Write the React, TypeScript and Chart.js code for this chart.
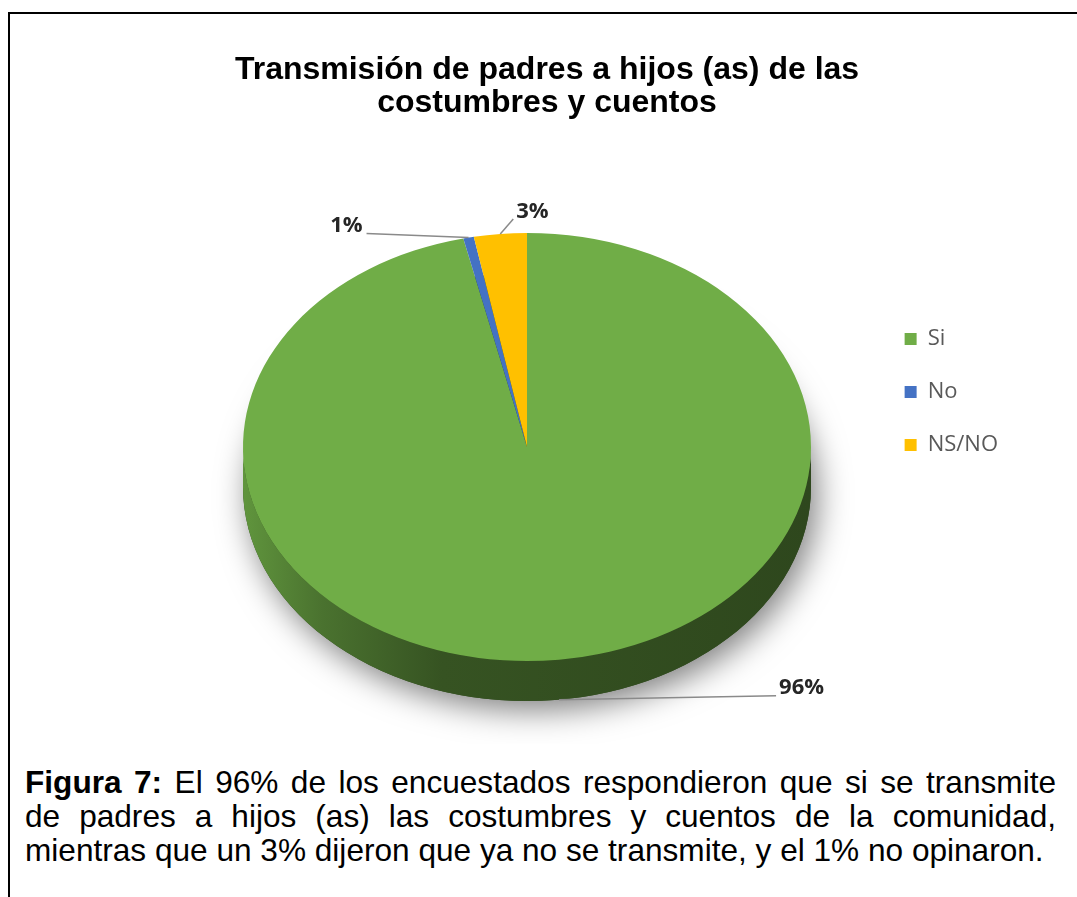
import React, { useEffect, useRef } from 'react';
import { Chart, registerables } from 'chart.js';

Chart.register(...registerables);

// ---- data ----
const titleLines = ['Transmisión de padres a hijos (as) de las', 'costumbres y cuentos'];
const categories = ['Si', 'No', 'NS/NO'];
const values = [96.4, 0.6, 3.0];
const sliceColors = ['#70AD47', '#4472C4', '#FFC000'];

const captionLabel = 'Figura 7:';
const captionLine1 = ' El 96% de los encuestados respondieron que si se transmite';
const captionLine2 = 'de padres a hijos (as) las costumbres y cuentos de la comunidad,';
const captionLine3 = 'mientras que un 3% dijeron que ya no se transmite, y el 1% no opinaron.';

// ---- geometry / styling (canvas px) ----
const PIE = { cx: 517, cy: 433, r: 284, ry: 214, depth: 40 };
const leaders = [
  { dx: 217, dy: -4, side: 'right' },
  { dx: -102, dy: -4, side: 'left' },
  { dx: 13, dy: -15, side: 'right' },
];

function shade(hex: string, f: number) {
  const n = parseInt(hex.slice(1), 16);
  const r = Math.round(((n >> 16) & 255) * f);
  const g = Math.round(((n >> 8) & 255) * f);
  const b = Math.round((n & 255) * f);
  return `rgb(${r},${g},${b})`;
}

const pie3d = {
  id: 'pie3d',
  beforeDatasetsDraw(chart: any) {
    const arcs = chart.getDatasetMeta(0).data as any[];
    if (!arcs.length) return;
    const ctx = chart.ctx as CanvasRenderingContext2D;
    const { cx, cy, ry, depth } = PIE;
    const r = arcs[0].outerRadius;
    // drop shadow under the pie body
    ctx.save();
    ctx.shadowColor = 'rgba(0,0,0,0.5)';
    ctx.shadowBlur = 32;
    ctx.shadowOffsetX = 6;
    ctx.shadowOffsetY = 9;
    ctx.fillStyle = '#30491f';
    ctx.beginPath();
    ctx.ellipse(cx, cy + depth, r, ry, 0, 0, Math.PI * 2);
    ctx.fill();
    ctx.restore();
    // side walls (front half only)
    arcs.forEach((arc: any) => {
      const s = Math.max(arc.startAngle, 0);
      const e = Math.min(arc.endAngle, Math.PI);
      if (e <= s) return;
      const base = arc.options.backgroundColor as string;
      const g = ctx.createLinearGradient(cx - r, 0, cx + r, 0);
      g.addColorStop(0, shade(base, 0.86));
      g.addColorStop(0.14, shade(base, 0.66));
      g.addColorStop(0.35, shade(base, 0.48));
      g.addColorStop(1, shade(base, 0.41));
      ctx.fillStyle = g;
      ctx.beginPath();
      ctx.ellipse(cx, cy, r, ry, 0, s, e);
      ctx.ellipse(cx, cy + depth, r, ry, 0, e, s, true);
      ctx.closePath();
      ctx.fill();
    });
    // squash the top face into an ellipse
    ctx.save();
    ctx.translate(cx, cy);
    ctx.scale(1, ry / r);
    ctx.translate(-arcs[0].x, -arcs[0].y);
  },
  afterDatasetsDraw(chart: any) {
    const arcs = chart.getDatasetMeta(0).data as any[];
    if (!arcs.length) return;
    const ctx = chart.ctx as CanvasRenderingContext2D;
    ctx.restore();
    const { cx, cy, ry, depth } = PIE;
    const r = arcs[0].outerRadius;
    const data = chart.data.datasets[0].data as number[];
    const total = data.reduce((a, b) => a + b, 0);
    arcs.forEach((arc: any, i: number) => {
      const mid = (arc.startAngle + arc.endAngle) / 2;
      const sin = Math.sin(mid);
      const ax = cx + r * Math.cos(mid);
      const ay = cy + ry * sin + (sin > 0 ? depth : 0);
      const L = leaders[i];
      const ex = ax + L.dx;
      const ey = ay + L.dy;
      ctx.save();
      ctx.strokeStyle = '#8a8a8a';
      ctx.lineWidth = 1.5;
      ctx.beginPath();
      ctx.moveTo(ax, ay);
      ctx.lineTo(ex, ey);
      ctx.stroke();
      ctx.font = 'bold 22px "Open Sans", sans-serif';
      ctx.fillStyle = '#262626';
      ctx.textBaseline = 'middle';
      ctx.textAlign = L.side === 'left' ? 'right' : 'left';
      const label = `${Math.round((data[i] / total) * 100)}%`;
      ctx.fillText(label, L.side === 'left' ? ex - 4 : ex + 3, ey - 7.5);
      ctx.restore();
    });
  },
};

export default function App() {
  const ref = useRef<HTMLCanvasElement>(null);

  useEffect(() => {
    if (!ref.current) return;
    const chart = new Chart(ref.current, {
      type: 'pie',
      data: {
        labels: categories,
        datasets: [
          {
            data: values,
            backgroundColor: sliceColors,
            borderWidth: 0,
            radius: PIE.r,
            clip: false,
          } as any,
        ],
      },
      options: {
        responsive: false,
        animation: false,
        events: [],
        layout: { padding: { left: 76, right: 69, top: 0, bottom: 90 } },
        plugins: {
          title: {
            display: true,
            text: titleLines,
            color: '#000000',
            font: { family: '"Liberation Sans", Arial, sans-serif', size: 32, weight: 'bold', lineHeight: 1.03 },
            padding: { top: 40, bottom: 10 },
          },
          legend: {
            position: 'right',
            align: 'center',
            fullSize: false,
            labels: {
              boxWidth: 12,
              boxHeight: 12,
              padding: 31,
              color: '#595959',
              font: { family: '"Open Sans", sans-serif', size: 22 },
            },
          },
          tooltip: { enabled: false },
        },
      } as any,
      plugins: [pie3d as any],
    });
    return () => chart.destroy();
  }, []);

  const lineStyle: React.CSSProperties = { textAlign: 'justify', textAlignLast: 'justify' as any };

  return (
    <div
      style={{
        position: 'absolute',
        left: 8,
        top: 12,
        width: 1067,
        height: 883,
        borderTop: '2px solid #000',
        borderLeft: '2px solid #000',
        background: '#fff',
      }}
    >
      <canvas ref={ref} width={1067} height={730} style={{ position: 'absolute', left: 0, top: 0 }} />
      <div
        style={{
          position: 'absolute',
          left: 15,
          top: 751,
          width: 1031,
          fontFamily: '"Liberation Sans", Arial, sans-serif',
          fontSize: 31.6,
          lineHeight: '34px',
          color: '#000',
        }}
      >
        <div style={lineStyle}>
          <b>{captionLabel}</b>
          {captionLine1}
        </div>
        <div style={lineStyle}>{captionLine2}</div>
        <div>{captionLine3}</div>
      </div>
    </div>
  );
}
